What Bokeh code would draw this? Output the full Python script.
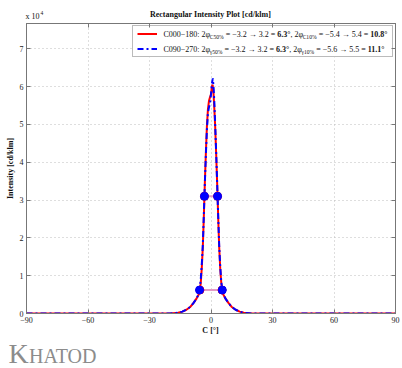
from bokeh.plotting import figure
from bokeh.layouts import column
from bokeh.models import (Range1d, FixedTicker, LinearAxis, Legend, LegendItem,
                          CustomJSTickFormatter)
from bokeh.core.properties import value
from bokeh.embed import file_html
from bokeh.resources import INLINE

# ---------------- data (intensity in units of 10^4 cd/klm) ----------------
c0_angle = [-90, -20, -16, -14, -12, -10, -8.5, -7, -6, -5.4, -5, -4.5, -4, -3.5, -3.2, -3,
            -2.5, -2, -1.5, -1, -0.5, 0, 0.5, 0.8, 1.2, 1.6, 2, 2.5, 3, 3.2, 3.5, 4, 4.5, 5, 5.4, 6,
            7, 8.5, 10, 12, 14, 16, 20, 90]
c0_int = [0, 0, 0.02, 0.05, 0.1, 0.18, 0.28, 0.4, 0.5, 0.63, 0.8, 1.2, 1.75, 2.55, 3.1, 3.45,
          4.25, 4.95, 5.4, 5.62, 5.72, 5.8, 6.02, 6.05, 5.85, 5.45, 5.0, 4.25, 3.45, 3.1, 2.55, 1.75, 1.2, 0.82, 0.63, 0.5,
          0.4, 0.28, 0.18, 0.1, 0.05, 0.02, 0, 0]

c90_angle = [-90, -20, -16, -14, -12, -10, -8.5, -7, -6, -5.6, -5, -4.5, -4, -3.5, -3.2, -3,
             -2.5, -2, -1.5, -1, -0.5, 0, 0.5, 0.9, 1.3, 1.7, 2, 2.5, 3, 3.2, 3.5, 4, 4.5, 5, 5.5, 6,
             7, 8.5, 10, 12, 14, 16, 20, 90]
c90_int = [0, 0, 0.02, 0.05, 0.1, 0.18, 0.28, 0.4, 0.52, 0.62, 0.9, 1.3, 1.8, 2.6, 3.1, 3.45,
           4.2, 4.85, 5.3, 5.45, 5.55, 5.8, 6.1, 6.22, 5.95, 5.5, 5.05, 4.3, 3.45, 3.1, 2.6, 1.8, 1.25, 0.85, 0.62, 0.52,
           0.4, 0.28, 0.18, 0.1, 0.05, 0.02, 0, 0]

c0_half_x = [-3.2, 3.2]
c0_half_y = [3.1, 3.1]
c0_tenth_x = [-5.4, 5.4]
c0_tenth_y = [0.62, 0.62]
c90_half_x = [-3.2, 3.2]
c90_half_y = [3.1, 3.1]
c90_tenth_x = [-5.6, 5.5]
c90_tenth_y = [0.62, 0.62]

x_ticks = [-90, -60, -30, 0, 30, 60, 90]
y_ticks = [0, 1, 2, 3, 4, 5, 6, 7]

title_text = "Rectangular Intensity Plot [cd/klm]"
ylabel_text = "Intensity [cd/klm]"
xlabel_text = "C [°]"
legend_row1 = [("C000−180: 2φ", "r"), ("C50%", "s"), (" = −3.2 → 3.2 = ", "r"), ("6.3°", "b"),
               (", 2φ", "r"), ("C10%", "s"), (" = −5.4 → 5.4 = ", "r"), ("10.8°", "b")]
legend_row2 = [("C090−270: 2φ", "r"), ("γ50%", "s"), (" = −3.2 → 3.2 = ", "r"), ("6.3°", "b"),
               (", 2φ", "r"), ("γ10%", "s"), (" = −5.6 → 5.5 = ", "r"), ("11.1°", "b")]

# ---------------- layout constants (pixels) ----------------
W = 402
TOP_H, MAIN_H, BOT_H = 23, 303, 42
FL, FR, FT, FB = 26, 395, 0, 290          # frame inside main figure
Y_MAX = 7.67
FONT = "Liberation Serif"
AX = "#777777"
TXT = "#111111"


def strip(h):
    f = figure(width=W, height=h, output_backend="svg", toolbar_location=None, title=None,
               x_range=Range1d(0, W), y_range=Range1d(0, h),
               min_border=0, min_border_left=0, min_border_right=0,
               min_border_top=0, min_border_bottom=0,
               x_axis_location=None, y_axis_location=None)
    f.frame_align = False
    f.outline_line_color = None
    f.grid.visible = False
    f.background_fill_color = "white"
    f.border_fill_color = "white"
    return f


# ---------------- top strip: title and multiplier ----------------
pt = strip(TOP_H)
pt.text(x=[210], y=[TOP_H - 14], text=[title_text], text_font=value(FONT), text_font_size="8px",
        text_font_style="bold", text_align="center", text_baseline="middle", text_color=TXT)
pt.text(x=[25], y=[TOP_H - 16], text=["x 10"], text_font=value(FONT), text_font_size="8px",
        text_align="left", text_baseline="middle", text_color=TXT)
pt.text(x=[40], y=[TOP_H - 12.5], text=["4"], text_font=value(FONT), text_font_size="5.5px",
        text_align="left", text_baseline="middle", text_color=TXT)

# ---------------- main plot ----------------
p = figure(width=W, height=MAIN_H, output_backend="svg", toolbar_location=None, title=None,
           x_range=Range1d(-90, 90), y_range=Range1d(0, Y_MAX),
           min_border_left=FL, min_border_right=W - FR, min_border_top=FT,
           min_border_bottom=MAIN_H - FB)
p.frame_align = False
p.background_fill_color = "white"
p.border_fill_color = "white"
p.outline_line_color = AX

for ax, ticks in ((p.xaxis[0], x_ticks), (p.yaxis[0], y_ticks)):
    ax.ticker = FixedTicker(ticks=ticks)
    ax.major_label_text_font = FONT
    ax.major_label_text_font_size = "8px"
    ax.major_label_text_color = "#222222"
    ax.major_tick_in = 4
    ax.major_tick_out = 0
    ax.minor_tick_line_color = None
    ax.axis_line_color = AX
    ax.major_tick_line_color = AX
p.xaxis[0].major_label_standoff = 3
p.yaxis[0].major_label_standoff = 3
p.yaxis[0].axis_label = ylabel_text
p.yaxis[0].axis_label_text_font = FONT
p.yaxis[0].axis_label_text_font_size = "8px"
p.yaxis[0].axis_label_text_font_style = "bold"
p.yaxis[0].axis_label_text_color = TXT
p.yaxis[0].axis_label_standoff = 2

blank = CustomJSTickFormatter(code="return ''")
for side, ticks in (("right", y_ticks), ("above", x_ticks)):
    ax = LinearAxis(ticker=FixedTicker(ticks=ticks), formatter=blank,
                    major_label_text_font_size="0px",
                    major_label_standoff=0, major_tick_in=4, major_tick_out=0,
                    minor_tick_line_color=None, axis_line_color=AX, major_tick_line_color=AX)
    p.add_layout(ax, side)

p.xgrid.ticker = FixedTicker(ticks=x_ticks)
p.ygrid.ticker = FixedTicker(ticks=y_ticks)
for g in (p.xgrid[0], p.ygrid[0]):
    g.grid_line_color = "#bdbdbd"
    g.grid_line_dash = "1 3"
    g.grid_line_width = 1

r_red = p.line(c0_angle, c0_int, line_color="#ff0000", line_width=2)
r_blue = p.line(c90_angle, c90_int, line_color="#0000ff", line_width=2, line_dash="6 3 2 3")

p.line(c0_half_x, c0_half_y, line_color="#e39ac6", line_width=2)
p.line(c0_tenth_x, c0_tenth_y, line_color="#e39ac6", line_width=2)
p.scatter(c0_half_x + c0_tenth_x, c0_half_y + c0_tenth_y, size=8, color="#ff0000")
p.scatter(c90_half_x + c90_tenth_x, c90_half_y + c90_tenth_y, size=8, color="#0000ff")


# pixel (inside main figure, from top-left) -> data coordinates
def px2x(px):
    return -90 + (px - FL) * 180.0 / (FR - FL)


def py2y(py):
    return (FB - py) * Y_MAX / (FB - FT)


# legend: white box behind, Bokeh legend draws frame + samples
LB_L, LB_R, LB_T, LB_B = 132, FR, 3, 34
p.quad(left=[px2x(LB_L)], right=[px2x(LB_R)], top=[py2y(LB_T)], bottom=[py2y(LB_B)],
       fill_color="white", line_color=None)

REG = {' ': .25, '.': .25, ',': .25, ':': .278, '=': .564, '−': .564, '→': 1.0, 'C': .667,
       'φ': .52, 'γ': .45, '%': .833, '°': .4}


def width(s, size):
    return sum(REG.get(ch, .5) for ch in s) * size


groups = {"r": ([], [], []), "s": ([], [], []), "b": ([], [], [])}


def legend_row(pieces, x0, mid):
    x = x0
    for txt, kind in pieces:
        size = 5.6 if kind == "s" else 8
        lead = len(txt) - len(txt.lstrip(" "))
        x += lead * .25 * size
        core = txt.strip(" ")
        ym = mid + 3 if kind == "s" else mid
        gx, gy, gt = groups[kind]
        gx.append(px2x(x))
        gy.append(py2y(ym))
        gt.append(core)
        x += width(core, size)
        trail = len(txt) - len(txt.rstrip(" "))
        x += trail * .25 * size


legend_row(legend_row1, 163, 10.5)
legend_row(legend_row2, 163, 25.5)
for kind, (gx, gy, gt) in groups.items():
    p.text(x=gx, y=gy, text=gt, text_font=value(FONT),
           text_font_size="5.6px" if kind == "s" else "8px",
           text_font_style="bold" if kind == "b" else "normal",
           text_align="left", text_baseline="middle", text_color=TXT)

legend = Legend(items=[LegendItem(label="", renderers=[r_red]),
                       LegendItem(label="", renderers=[r_blue])],
                location=(LB_L - FL, FB - LB_B), glyph_width=20, glyph_height=7, label_height=7,
                label_width=226, label_standoff=5, padding=4, spacing=8, margin=0,
                border_line_color=AX, background_fill_alpha=0,
                label_text_font_size="1px")
p.add_layout(legend)

# ---------------- bottom strip: x label and logo ----------------
pb = strip(BOT_H)
pb.text(x=[210], y=[BOT_H - 4], text=[xlabel_text], text_font=value(FONT), text_font_size="8px",
        text_font_style="bold", text_align="center", text_baseline="middle", text_color=TXT)
pb.text(x=[8], y=[15.5], text=["K"], text_font=value(FONT), text_font_size="28px",
        text_align="left", text_baseline="middle", text_color="#8c8c8c")
pb.text(x=[28.5], y=[12.5], text=["HATOD"], text_font=value(FONT), text_font_size="20px",
        text_align="left", text_baseline="middle", text_color="#8c8c8c")

layout = column(pt, p, pb, spacing=0)
open("out.html", "w").write(file_html(layout, INLINE))
